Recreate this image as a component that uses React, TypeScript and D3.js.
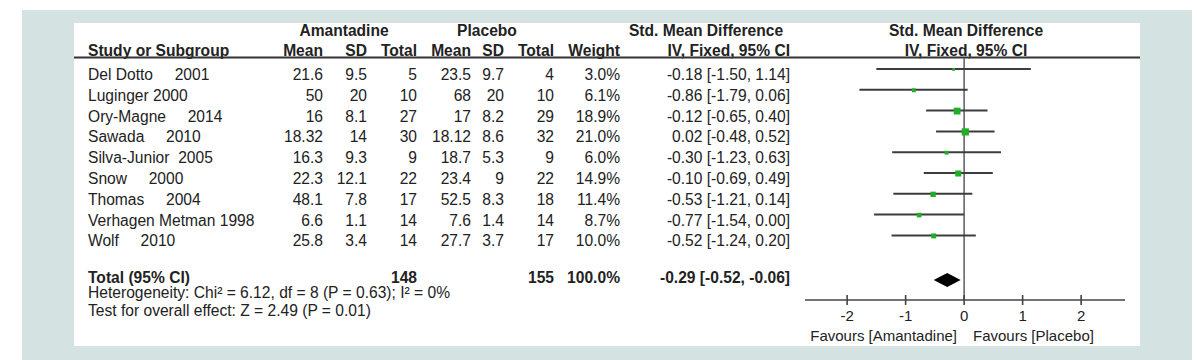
import React from 'react';
import * as d3 from 'd3';

// study rows
const studies = [
    'Del Dotto     2001',
    'Luginger 2000',
    'Ory-Magne     2014',
    'Sawada     2010',
    'Silva-Junior  2005',
    'Snow     2000',
    'Thomas     2004',
    'Verhagen Metman 1998',
    'Wolf     2010',
];
const amMean = [21.6, 50, 16, 18.32, 16.3, 22.3, 48.1, 6.6, 25.8];
const amSD = [9.5, 20, 8.1, 14, 9.3, 12.1, 7.8, 1.1, 3.4];
const amN = [5, 10, 27, 30, 9, 22, 17, 14, 14];
const plMean = [23.5, 68, 17, 18.12, 18.7, 23.4, 52.5, 7.6, 27.7];
const plSD = [9.7, 20, 8.2, 8.6, 5.3, 9, 8.3, 1.4, 3.7];
const plN = [4, 10, 29, 32, 9, 22, 18, 14, 17];
const weights = [3.0, 6.1, 18.9, 21.0, 6.0, 14.9, 11.4, 8.7, 10.0];
const smd = [-0.18, -0.86, -0.12, 0.02, -0.30, -0.10, -0.53, -0.77, -0.52];
const ciLow = [-1.50, -1.79, -0.65, -0.48, -1.23, -0.69, -1.21, -1.54, -1.24];
const ciHigh = [1.14, 0.06, 0.40, 0.52, 0.63, 0.49, 0.14, 0.00, 0.20];

// pooled result
const totalAm = 148;
const totalPl = 155;
const totalWeight = 100.0;
const totalSmd = [-0.29, -0.52, -0.06];

const axisTicks = [-2, -1, 0, 1, 2];
const heterogeneity = 'Heterogeneity: Chi\u00b2 = 6.12, df = 8 (P = 0.63); I\u00b2 = 0%';
const overallTest = 'Test for overall effect: Z = 2.49 (P = 0.01)';

const FONT = '"Liberation Sans", Arial, sans-serif';
const INK = '#222';
const FS = 15.6;

const fmt2 = (v: number) => v.toFixed(2);
const ciText = (e: number, l: number, h: number) => `${fmt2(e)} [${fmt2(l)}, ${fmt2(h)}]`;

const App = () => {
    const x = d3.scaleLinear().domain([-2.72, 2.75]).range([805, 1125]);
    const row = d3.scaleLinear().domain([0, 1]).range([80, 100.8]); // text baselines
    const box = d3.scaleSqrt().domain([0, 21]).range([0, 7.2]);

    const columns: { vals: string[]; right: number; head: string }[] = [
        { vals: amMean.map(String), right: 323, head: 'Mean' },
        { vals: amSD.map(String), right: 367, head: 'SD' },
        { vals: amN.map(String), right: 417, head: 'Total' },
        { vals: plMean.map(String), right: 471, head: 'Mean' },
        { vals: plSD.map(String), right: 504, head: 'SD' },
        { vals: plN.map(String), right: 554, head: 'Total' },
        { vals: weights.map(w => w.toFixed(1) + '%'), right: 620, head: 'Weight' },
        { vals: smd.map((e, i) => ciText(e, ciLow[i], ciHigh[i])), right: 790, head: 'IV, Fixed, 95% CI' },
    ];

    const axisY = 300;
    const diamondY = 280;
    const diamond = [
        [x(totalSmd[1]), diamondY],
        [x(totalSmd[0]), diamondY - 7],
        [x(totalSmd[2]), diamondY],
        [x(totalSmd[0]), diamondY + 7],
    ];

    return (
        <svg width={1197} height={360} style={{ position: 'absolute', left: 0, top: 0 }}
             fontFamily={FONT} fontSize={FS} fill={INK}>
            <rect x={0} y={0} width={1197} height={360} fill="#fff" />
            <rect x={22} y={10} width={1170} height={350} fill="#d4e2e2" />
            <rect x={74} y={23} width={1066} height={323} fill="#fff" />

            {/* headers */}
            <g fontWeight="bold">
                <text x={344} y={36} textAnchor="middle">Amantadine</text>
                <text x={487} y={36} textAnchor="middle">Placebo</text>
                <text x={706} y={36} textAnchor="middle">Std. Mean Difference</text>
                <text x={966} y={36} textAnchor="middle">Std. Mean Difference</text>
                <text x={88} y={55.5}>Study or Subgroup</text>
                {columns.map((c, i) => (
                    <text key={i} x={c.right} y={55.5} textAnchor="end">{c.head}</text>
                ))}
                <text x={966} y={55.5} textAnchor="middle">IV, Fixed, 95% CI</text>
            </g>
            <line x1={74} x2={1140} y1={57.5} y2={57.5} stroke="#333" strokeWidth={2} />

            {/* study rows */}
            {studies.map((s, i) => (
                <text key={s} x={88} y={row(i)} style={{ whiteSpace: 'pre' }}>{s}</text>
            ))}
            {columns.map((c, ci) => c.vals.map((v, i) => (
                <text key={`${ci}-${i}`} x={c.right} y={row(i)} textAnchor="end">{v}</text>
            )))}

            {/* total row */}
            <g fontWeight="bold">
                <text x={88} y={282.5}>Total (95% CI)</text>
                <text x={417} y={282.5} textAnchor="end">{totalAm}</text>
                <text x={554} y={282.5} textAnchor="end">{totalPl}</text>
                <text x={620} y={282.5} textAnchor="end">{totalWeight.toFixed(1)}%</text>
                <text x={790} y={282.5} textAnchor="end">{ciText(totalSmd[0], totalSmd[1], totalSmd[2])}</text>
            </g>
            <text x={88} y={297.5}>{heterogeneity}</text>
            <text x={88} y={316}>{overallTest}</text>

            {/* forest plot */}
            <line x1={x(0)} x2={x(0)} y1={58} y2={axisY} stroke="#666" strokeWidth={1.6} />
            {smd.map((e, i) => {
                const fy = row(i) - 11;
                const s = box(weights[i]);
                return (
                    <g key={i}>
                        <line x1={x(ciLow[i])} x2={x(ciHigh[i])} y1={fy} y2={fy} stroke="#3c3c3c" strokeWidth={2} />
                        <rect x={x(e) - s / 2} y={fy - s / 2 + 0.5} width={s} height={s} fill="#1faf26" />
                    </g>
                );
            })}
            <polygon points={diamond.map(p => p.join(',')).join(' ')} fill="#000" />

            {/* axis */}
            <line x1={x.range()[0]} x2={x.range()[1]} y1={axisY} y2={axisY} stroke="#444" strokeWidth={1.6} />
            {axisTicks.map(t => (
                <g key={t}>
                    <line x1={x(t)} x2={x(t)} y1={axisY - 5} y2={axisY + 5} stroke="#444" strokeWidth={1.6} />
                    <text x={x(t)} y={321} textAnchor="middle" fontSize={15}>{t}</text>
                </g>
            ))}
            <text x={957} y={341} textAnchor="end" fontSize={15}>Favours [Amantadine]</text>
            <text x={973} y={341} fontSize={15}>Favours [Placebo]</text>
        </svg>
    );
};

export default App;
